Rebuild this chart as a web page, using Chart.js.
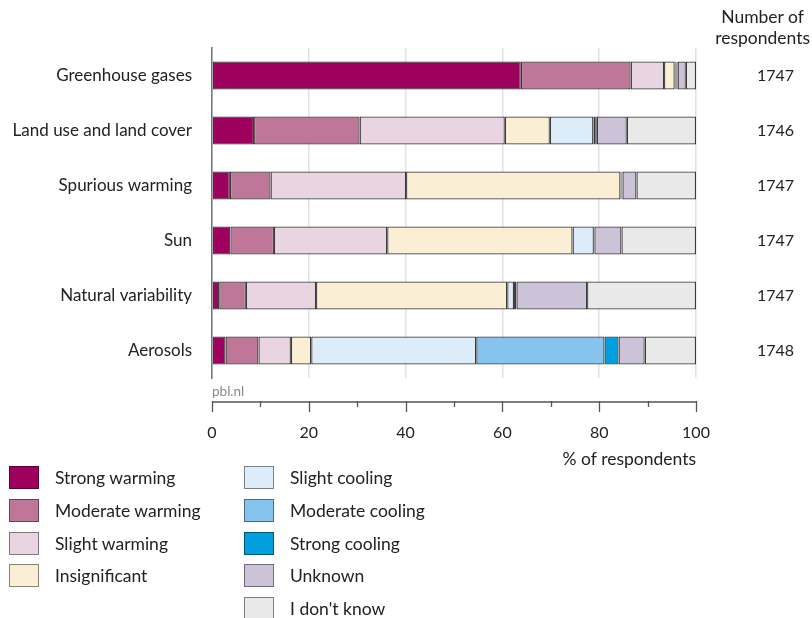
<!DOCTYPE html>
<html>
<head>
<meta charset="utf-8">
<script src="https://cdn.jsdelivr.net/npm/chart.js@4"></script>
<style>
  html, body { margin: 0; padding: 0; background: #fff; }
  body { width: 812px; height: 618px; position: relative; overflow: hidden; font-family: Lato, sans-serif; color: #222; }
  #wrap { position: absolute; left: 0; top: 0; width: 812px; height: 618px; }
  .txt { position: absolute; font-size: 17.5px; white-space: nowrap; }
  #head { right: 2px; top: 6px; text-align: center; line-height: 21px; font-size: 17.5px; }
  #xtitle { right: 116px; top: 448px; }
  #src { left: 212px; top: 383px; font-size: 13.5px; color: #888; }
  .leg { position: absolute; display: flex; align-items: center; font-size: 17.5px; }
  .leg span.box { width: 30px; height: 23px; box-sizing: border-box; border: 1px solid rgba(0,0,0,0.45); margin-right: 16px; }
</style>
</head>
<body>
<div id="wrap"><canvas id="chart" width="812" height="618"></canvas></div>
<div class="txt" id="head">Number of<br>respondents</div>
<div class="txt" id="xtitle">% of respondents</div>
<div class="txt" id="src">pbl.nl</div>
<div id="legend"></div>
<script>
// === データ ===
const categories = ["Greenhouse gases", "Land use and land cover", "Spurious warming", "Sun", "Natural variability", "Aerosols"];
const respondents = ["1747", "1746", "1747", "1747", "1747", "1748"];

const strongWarming   = [63.8,  8.7,  3.7,  3.8,  1.5,  2.8];
const moderateWarming = [22.7, 21.8,  8.4,  9.0,  5.5,  6.8];
const slightWarming   = [ 6.9, 30.0, 28.0, 23.4, 14.5,  6.7];
const insignificant   = [ 2.2,  9.3, 44.3, 38.3, 39.5,  4.2];
const slightCooling   = [ 0.2,  9.0,  0.1,  4.4,  1.4, 34.1];
const moderateCooling = [ 0.2,  0.5,  0.1,  0.0,  0.2, 26.5];
const strongCooling   = [ 0.2,  0.2,  0.2,  0.1,  0.3,  2.9];
const unknown         = [ 1.7,  6.2,  2.9,  5.6, 14.6,  5.4];
const dontKnow        = [ 2.1, 14.3, 12.3, 15.4, 22.5, 10.6];

const seriesNames = ["Strong warming", "Moderate warming", "Slight warming", "Insignificant",
                     "Slight cooling", "Moderate cooling", "Strong cooling", "Unknown", "I don't know"];
const seriesData = [strongWarming, moderateWarming, slightWarming, insignificant,
                    slightCooling, moderateCooling, strongCooling, unknown, dontKnow];
const seriesColors = ["#9e005d", "#be7699", "#e9d5e1", "#faeed5",
                      "#dcecf9", "#86c4ef", "#009fdd", "#ccc3d9", "#e9e9e9"];
const xTicks = [0, 20, 40, 60, 80, 100];

// === レイアウト ===
const AREA = { left: 212, right: 696, top: 48, bottom: 378 };
const AXIS_Y = 402;

Chart.defaults.font.family = "Lato, sans-serif";
Chart.defaults.color = "#222";

// 離れた x 軸（目盛り線）
const detachedAxis = {
  id: "detachedAxis",
  afterDraw(chart) {
    const { ctx, scales: { x } } = chart;
    ctx.save();
    ctx.strokeStyle = "#555";
    ctx.lineWidth = 1.3;
    ctx.beginPath();
    ctx.moveTo(x.getPixelForValue(0), AXIS_Y);
    ctx.lineTo(x.getPixelForValue(100), AXIS_Y);
    for (let v = 0; v <= 100; v += 10) {
      const px = Math.round(x.getPixelForValue(v)) + 0.5;
      ctx.moveTo(px, AXIS_Y - 1);
      ctx.lineTo(px, AXIS_Y + (v % 20 === 0 ? 10 : 5));
    }
    ctx.stroke();
    ctx.restore();
  }
};

const noPad = s => { s.paddingTop = 0; s.paddingBottom = 0; };

const chart = new Chart(document.getElementById("chart"), {
  type: "bar",
  data: {
    labels: categories,
    datasets: seriesNames.map((name, i) => ({
      label: name,
      data: seriesData[i],
      backgroundColor: seriesColors[i],
      borderColor: "#3a3a3a",
      borderWidth: 1.3,
      borderSkipped: false,
      categoryPercentage: 1,
      barPercentage: 0.51
    }))
  },
  plugins: [detachedAxis],
  options: {
    indexAxis: "y",
    responsive: false,
    animation: false,
    layout: { padding: { top: AREA.top, left: 0, right: 0, bottom: 0 } },
    plugins: { legend: { display: false }, tooltip: { enabled: false } },
    scales: {
      x: {
        stacked: true,
        min: 0, max: 100,
        afterBuildTicks: s => { s.ticks = xTicks.map(v => ({ value: v })); },
        afterFit: s => { s.height = 618 - AREA.bottom; },
        border: { display: false },
        grid: {
          drawTicks: false,
          color: c => (c.tick && c.tick.value === 0) ? "rgba(0,0,0,0)" : "#e2e2e2",
          lineWidth: 1.5
        },
        ticks: { padding: 45, font: { size: 16 }, color: "#222", maxRotation: 0 }
      },
      y: {
        stacked: true,
        afterFit: s => { s.width = AREA.left; noPad(s); },
        border: { display: true, color: "#777", width: 1.6 },
        grid: { display: false, drawTicks: false },
        ticks: { padding: 20, font: { size: 17 }, color: "#222" }
      },
      y2: {
        type: "category",
        labels: respondents,
        position: "right",
        offset: true,
        afterFit: s => { s.width = 812 - AREA.right; noPad(s); },
        border: { display: false },
        grid: { display: false, drawTicks: false },
        ticks: { padding: 61, font: { size: 16 }, color: "#222" }
      }
    }
  }
});

// === 凡例（HTML） ===
const legend = document.getElementById("legend");
seriesNames.forEach((name, i) => {
  const col = i < 4 ? 0 : 1;
  const row = i < 4 ? i : i - 4;
  const d = document.createElement("div");
  d.className = "leg";
  d.style.left = (col ? 244 : 9) + "px";
  d.style.top = (466 + row * 32.8) + "px";
  d.innerHTML = `<span class="box" style="background:${seriesColors[i]}"></span>${name}`;
  legend.appendChild(d);
});
</script>
</body>
</html>
